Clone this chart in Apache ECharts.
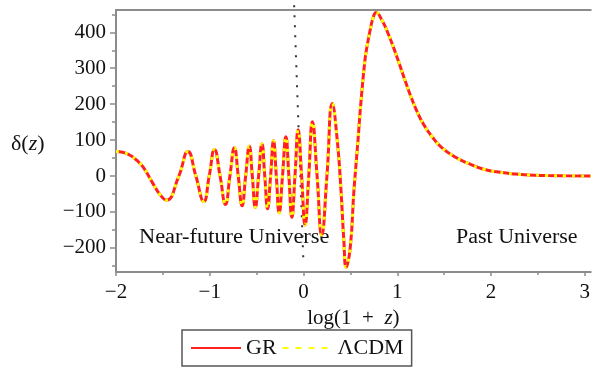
<!DOCTYPE html>
<html><head><meta charset="utf-8">
<script src="https://cdn.jsdelivr.net/npm/echarts@6/dist/echarts.min.js"></script>
<style>html,body{margin:0;padding:0;background:#fff}#c{width:593px;height:371px}</style>
</head><body><div id="c"></div>
<script>
// x = log(1+z)
const logOnePlusZ = [-2.00,-1.93,-1.85,-1.78,-1.71,-1.61,-1.53,-1.462,-1.33,-1.233,-1.148,-1.063,-1.006,-0.949,-0.89,-0.832,-0.785,-0.737,-0.696,-0.655,-0.617,-0.578,-0.546,-0.514,-0.479,-0.443,-0.413,-0.383,-0.351,-0.320,-0.290,-0.259,-0.224,-0.188,-0.156,-0.124,-0.091,-0.057,-0.02,0.017,0.056,0.095,0.145,0.194,0.25,0.307,0.36,0.40,0.43,0.455,0.50,0.537,0.58,0.61,0.655,0.68,0.71,0.74,0.775,0.84,0.90,0.96,1.02,1.086,1.14,1.20,1.28,1.37,1.475,1.617,1.758,1.92,2.08,2.24,2.39,2.6,2.8,3.064];
// delta(z) for GR
const deltaGR = [68,66,58,44,25,-19,-52,-67,0,68,0,-71,0,74,0,-79,0,79,0,-83,0,83,0,-87,0,89,0,-91,0,98,0,-102,0,109,0,-115,0,129,0,-136,0,151,0,-164,0,202,100,-40,-178,-254,-195,-44,95,197,322,364,405,438,455,432,398,358,314,264,225,186,144,110,79,53,35,19,11,6,3,1.5,0.7,0.3];
// delta(z) for LambdaCDM (coincides with GR in the figure)
const deltaLCDM = [68,66,58,44,25,-19,-52,-67,0,68,0,-71,0,74,0,-79,0,79,0,-83,0,83,0,-87,0,89,0,-91,0,98,0,-102,0,109,0,-115,0,129,0,-136,0,151,0,-164,0,202,100,-40,-178,-254,-195,-44,95,197,322,364,405,438,455,432,398,358,314,264,225,186,144,110,79,53,35,19,11,6,3,1.5,0.7,0.3];
const xMajorTicks = [-2,-1,0,1,2,3];
const xMinorTicks = [-1.5,-0.5,0.5,1.5,2.5];
const yMajorTicks = [-200,-100,0,100,200,300,400];
const yMinorTicks = [-250,-150,-50,50,150,250,350,450];
const presentLineX = [-0.1, 0.0];
const presentLineY = [475, -245];

const X_MIN = -2, X_MAX = 3.064, Y_MIN = -267, Y_MAX = 462;
const AX = '#8c8c8c';
const FONT = '"Liberation Serif", "Times New Roman", serif';
const minus = v => String(v).replace('-', '\u2212');
const zip = (a, b) => a.map((v, i) => [v, b[i]]);

const chart = echarts.init(document.getElementById('c'), null, {renderer: 'canvas'});
chart.setOption({
  animation: false,
  backgroundColor: '#fff',
  grid: {left: 116, right: 0, top: 10, bottom: 99, containLabel: false},
  xAxis: [
    {type: 'value', min: X_MIN, max: X_MAX, position: 'bottom',
     axisLine: {show: true, onZero: false, lineStyle: {color: AX, width: 2}},
     axisTick: {show: true, customValues: xMajorTicks, length: 4, lineStyle: {color: AX, width: 1.5}},
     axisLabel: {customValues: xMajorTicks, formatter: minus, fontFamily: FONT, fontSize: 21, color: '#111', margin: 10},
     splitLine: {show: false},
     name: '{n|log(1\u2002+\u2002}{i|z}{n|)}', nameLocation: 'middle', nameGap: 31,
     nameTextStyle: {rich: {n: {fontFamily: FONT, fontSize: 21, color: '#111'}, i: {fontFamily: FONT, fontSize: 21, fontStyle: 'italic', color: '#111'}}}},
    {type: 'value', min: X_MIN, max: X_MAX, position: 'bottom',
     axisLine: {show: false, onZero: false},
     axisTick: {show: true, customValues: xMinorTicks, length: 3, lineStyle: {color: AX, width: 1.5}},
     axisLabel: {show: false}, splitLine: {show: false}},
    {type: 'value', min: X_MIN, max: X_MAX, position: 'top',
     axisLine: {show: true, onZero: false, lineStyle: {color: AX, width: 2}},
     axisTick: {show: false}, axisLabel: {show: false}, splitLine: {show: false}}
  ],
  yAxis: [
    {type: 'value', min: Y_MIN, max: Y_MAX, position: 'left',
     axisLine: {show: true, onZero: false, lineStyle: {color: AX, width: 2}},
     axisTick: {show: true, customValues: yMajorTicks, length: 6, lineStyle: {color: AX, width: 1.5}},
     axisLabel: {customValues: yMajorTicks, formatter: minus, fontFamily: FONT, fontSize: 21, color: '#111', margin: 10},
     splitLine: {show: false}},
    {type: 'value', min: Y_MIN, max: Y_MAX, position: 'left',
     axisLine: {show: false, onZero: false},
     axisTick: {show: true, customValues: yMinorTicks, length: 4, lineStyle: {color: AX, width: 1.5}},
     axisLabel: {show: false}, splitLine: {show: false}}
  ],
  legend: {
    data: [
      {name: 'GR'},
      {name: '\u039BCDM', lineStyle: {type: [6, 7]}}
    ],
    left: 182, top: 330, orient: 'horizontal',
    itemWidth: 50, itemHeight: 14, itemGap: 5,
    itemStyle: {opacity: 0},
    borderColor: '#555', borderWidth: 1.5, padding: [7, 8, 7, 8],
    textStyle: {fontFamily: FONT, fontSize: 22, color: '#111'}
  },
  graphic: [
    {type: 'text', left: 11, top: 133, style: {text: '{n|\u03B4(}{i|z}{n|)}', rich: {n: {fontFamily: FONT, fontSize: 22, fill: '#111'}, i: {fontFamily: FONT, fontSize: 22, fontStyle: 'italic', fill: '#111'}}}},
    {type: 'text', x: 139, y: 228, scaleX: 1.12, style: {text: 'Near-future Universe', fontFamily: FONT, fontSize: 20, fill: '#111'}},
    {type: 'text', x: 456, y: 228, scaleX: 1.1, style: {text: 'Past Universe', fontFamily: FONT, fontSize: 20, fill: '#111'}}
  ],
  series: [
    {name: 'present', type: 'line', data: zip(presentLineX, presentLineY), clip: false, symbol: 'none', silent: true,
     lineStyle: {color: '#333', width: 2, type: [2, 8]}, z: 1},
    {name: 'GR', type: 'line', data: zip(logOnePlusZ, deltaGR), symbol: 'none', smooth: 0.5,
     lineStyle: {color: '#ff2020', width: 3}, itemStyle: {color: '#ff2020'}, z: 2},
    {name: '\u039BCDM', type: 'line', data: zip(logOnePlusZ, deltaLCDM), symbol: 'none', smooth: 0.5,
     lineStyle: {color: '#ffff00', width: 3, type: [3, 6]}, itemStyle: {color: '#ffff00'}, z: 3}
  ]
});
</script></body></html>
